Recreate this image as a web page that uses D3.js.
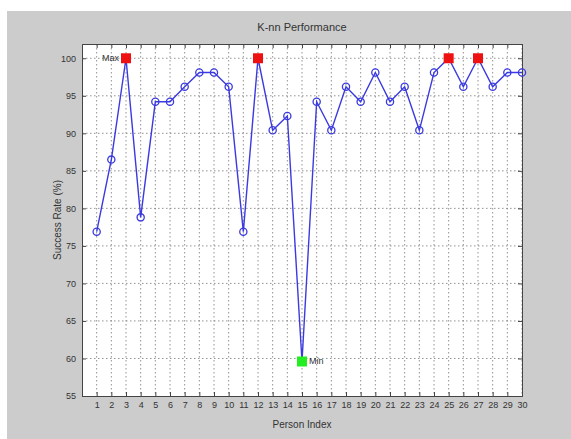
<!DOCTYPE html>
<html>
<head>
<meta charset="utf-8">
<script src="https://cdn.jsdelivr.net/npm/d3@7"></script>
<style>
  body { margin: 0; background: #fff; }
  svg text { font-family: "Liberation Sans", Arial, sans-serif; }
</style>
</head>
<body>
<svg id="chart"></svg>
<script>
// DATA ////////////////////////////////////////////////////////////////
var person_index = d3.range(1, 31);
var success_rate = [76.9, 86.5, 100, 78.8, 94.2, 94.2, 96.2, 98.1, 98.1, 96.2,
                    76.9, 100, 90.4, 92.3, 59.6, 94.2, 90.4, 96.2, 94.2, 98.1,
                    94.2, 96.2, 90.4, 98.1, 100, 96.2, 100, 96.2, 98.1, 98.1];
var y_ticks = [55, 60, 65, 70, 75, 80, 85, 90, 95, 100];

// SETUP ///////////////////////////////////////////////////////////////
const W = 571, H = 439;
const LEFT = 82, TOP = 44, RIGHT = 522, BOTTOM = 396;

var svg = d3.select('#chart').attr('width', W).attr('height', H);

// grey figure background
svg.append('rect')
    .attr('x', 7).attr('y', 11)
    .attr('width', W - 7).attr('height', H - 11)
    .attr('fill', '#cccccc');

var x = d3.scaleLinear().domain([0, 30]).range([LEFT, RIGHT]);
var y = d3.scaleLinear().domain([55, 101.9]).range([BOTTOM, TOP]);

// axes box
svg.append('rect')
    .attr('x', LEFT).attr('y', TOP)
    .attr('width', RIGHT - LEFT).attr('height', BOTTOM - TOP)
    .attr('fill', '#ffffff');

// grid
var grid = svg.append('g').attr('stroke', '#555').attr('stroke-width', 0.8)
    .attr('stroke-dasharray', '1.5,2.5').attr('opacity', 0.8);
grid.selectAll('.vg').data(person_index).enter().append('line')
    .attr('x1', d => x(d)).attr('x2', d => x(d))
    .attr('y1', TOP).attr('y2', BOTTOM);
grid.selectAll('.hg').data(y_ticks.filter(d => d > 55)).enter().append('line')
    .attr('y1', d => y(d)).attr('y2', d => y(d))
    .attr('x1', LEFT).attr('x2', RIGHT);

// ticks (bottom, top, left, right) like a matlab box
svg.append('g').attr('class', 'axis')
    .attr('transform', 'translate(0,' + BOTTOM + ')')
    .call(d3.axisBottom(x).tickValues(person_index).tickSize(-4).tickPadding(6));
svg.append('g').attr('class', 'axis')
    .attr('transform', 'translate(0,' + TOP + ')')
    .call(d3.axisTop(x).tickValues(person_index).tickSize(-4).tickFormat(''));
svg.append('g').attr('class', 'axis')
    .attr('transform', 'translate(' + LEFT + ',0)')
    .call(d3.axisLeft(y).tickValues(y_ticks).tickSize(-4).tickPadding(6));
svg.append('g').attr('class', 'axis')
    .attr('transform', 'translate(' + RIGHT + ',0)')
    .call(d3.axisRight(y).tickValues(y_ticks).tickSize(-4).tickFormat(''));

svg.selectAll('.axis path').attr('stroke', '#444').attr('stroke-width', 1);
svg.selectAll('.axis line').attr('stroke', '#444');
svg.selectAll('.axis text').attr('fill', '#333').style('font-size', '9px');

// line + markers
var line = d3.line()
    .x(function (d, i) { return x(person_index[i]); })
    .y(function (d) { return y(d); });

svg.append('path')
    .datum(success_rate)
    .attr('d', line)
    .attr('fill', 'none')
    .attr('stroke', '#3a3ae0')
    .attr('stroke-width', 1.4);

svg.append('g').selectAll('circle')
    .data(success_rate).enter().append('circle')
    .attr('cx', (d, i) => x(person_index[i]))
    .attr('cy', d => y(d))
    .attr('r', 3.6)
    .attr('fill', 'none')
    .attr('stroke', '#3a3ae0')
    .attr('stroke-width', 1.3);

// max / min highlight
var max_v = d3.max(success_rate), min_v = d3.min(success_rate);
var max_idx = success_rate.map((d, i) => d === max_v ? i : -1).filter(i => i >= 0);
var min_idx = success_rate.indexOf(min_v);

svg.append('g').selectAll('rect')
    .data(max_idx).enter().append('rect')
    .attr('x', i => x(person_index[i]) - 5)
    .attr('y', i => y(success_rate[i]) - 5)
    .attr('width', 10).attr('height', 10)
    .attr('fill', '#ee1111');

svg.append('rect')
    .attr('x', x(person_index[min_idx]) - 5)
    .attr('y', y(min_v) - 5)
    .attr('width', 10).attr('height', 10)
    .attr('fill', '#22ee22');

svg.append('text')
    .text('Max')
    .attr('x', x(person_index[max_idx[0]]) - 7)
    .attr('y', y(max_v) + 3)
    .style('text-anchor', 'end')
    .style('font-size', '9px')
    .attr('fill', '#333');

svg.append('text')
    .text('Min')
    .attr('x', x(person_index[min_idx]) + 7)
    .attr('y', y(min_v) + 3)
    .style('font-size', '9px')
    .attr('fill', '#333');

// labels
svg.append('text')
    .text('K-nn Performance')
    .attr('x', (LEFT + RIGHT) / 2).attr('y', 31)
    .style('text-anchor', 'middle')
    .style('font-size', '11px')
    .attr('fill', '#333');

svg.append('text')
    .text('Person Index')
    .attr('x', (LEFT + RIGHT) / 2).attr('y', 428)
    .style('text-anchor', 'middle')
    .style('font-size', '10px')
    .attr('fill', '#333');

svg.append('text')
    .text('Success Rate (%)')
    .attr('transform', 'translate(61,' + ((TOP + BOTTOM) / 2) + ') rotate(-90)')
    .style('text-anchor', 'middle')
    .style('font-size', '10px')
    .attr('fill', '#333');
</script>
</body>
</html>
